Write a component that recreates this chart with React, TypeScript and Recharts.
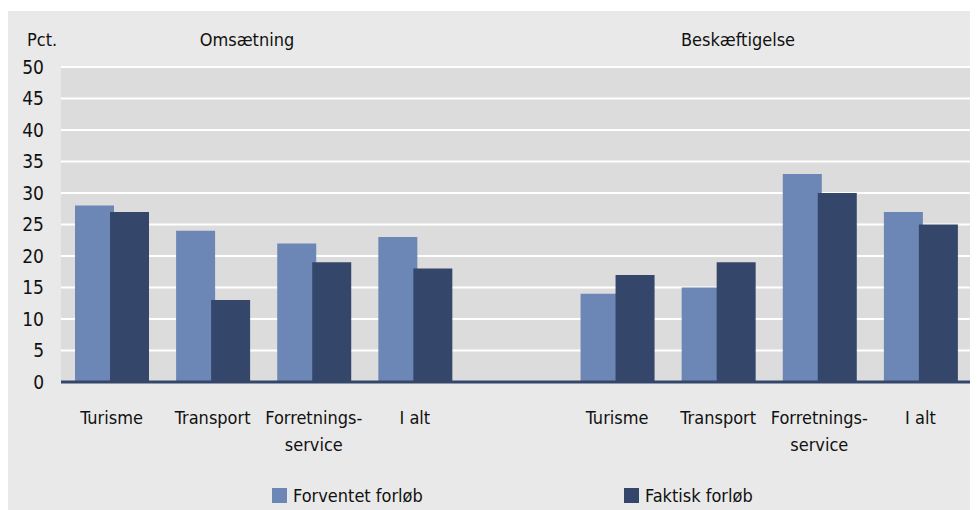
import { Bar, BarChart, CartesianGrid, XAxis, YAxis } from "recharts"

const categories = [
  "Turisme",
  "Transport",
  "Forretnings-\nservice",
  "I alt",
  "",
  "Turisme",
  "Transport",
  "Forretnings-\nservice",
  "I alt",
]
const forventet = [28, 24, 22, 23, null, 14, 15, 33, 27]
const faktisk = [27, 13, 19, 18, null, 17, 19, 30, 25]
const yTicks = [0, 5, 10, 15, 20, 25, 30, 35, 40, 45, 50]

const data = categories.map((name, i) => ({
  name,
  forventet: forventet[i],
  faktisk: faktisk[i],
}))

const FONT = '"DejaVu Sans Condensed", "Liberation Sans", sans-serif'
const LIGHT = "#6c87b5"
const DARK = "#34476b"

function CategoryTick(props: any) {
  const { x, y, payload } = props
  const lines = String(payload.value).split("\n")
  return (
    <text x={x} y={y} textAnchor="middle" fontFamily={FONT} fontSize={18} fill="#111">
      {lines.map((l, i) => (
        <tspan key={i} x={x} dy={i === 0 ? "0.71em" : 27}>
          {l}
        </tspan>
      ))}
    </text>
  )
}

export default function App() {
  return (
    <div
      style={{
        position: "relative",
        width: 970,
        height: 499,
        marginTop: 3,
        background: "#e9e9e9",
        fontFamily: FONT,
        color: "#111",
      }}
    >
      <div style={{ position: "absolute", left: 19, top: 20, fontSize: 18, lineHeight: "18px" }}>Pct.</div>
      <div style={{ position: "absolute", left: 139, width: 200, top: 20, fontSize: 18, lineHeight: "18px", textAlign: "center" }}>
        Omsætning
      </div>
      <div style={{ position: "absolute", left: 630, width: 200, top: 20, fontSize: 18, lineHeight: "18px", textAlign: "center" }}>
        Beskæftigelse
      </div>
      <BarChart
        width={970}
        height={499}
        data={data}
        margin={{ top: 56, right: 7, bottom: 38, left: 0 }}
        barGap={-4}
        barSize={39}
      >
        <CartesianGrid vertical={false} stroke="#ffffff" strokeWidth={2} fill="#dcdcdc" fillOpacity={1} />
        <XAxis
          dataKey="name"
          interval={0}
          tickLine={false}
          tickSize={0}
          tickMargin={29}
          height={90}
          axisLine={{ stroke: DARK, strokeWidth: 3 }}
          tick={<CategoryTick />}
        />
        <YAxis
          domain={[0, 50]}
          ticks={yTicks}
          width={53}
          axisLine={false}
          tickLine={false}
          tickSize={0}
          tickMargin={17}
          tick={{ fontFamily: FONT, fontSize: 19, fill: "#111" }}
        />
        <Bar dataKey="forventet" fill={LIGHT} isAnimationActive={false} />
        <Bar dataKey="faktisk" fill={DARK} isAnimationActive={false} />
      </BarChart>
      <div style={{ position: "absolute", left: 264, top: 477, width: 15, height: 15, background: LIGHT }} />
      <div style={{ position: "absolute", left: 285, top: 476, fontSize: 18, lineHeight: "18px" }}>Forventet forløb</div>
      <div style={{ position: "absolute", left: 616, top: 477, width: 15, height: 15, background: DARK }} />
      <div style={{ position: "absolute", left: 637, top: 476, fontSize: 18, lineHeight: "18px" }}>Faktisk forløb</div>
    </div>
  )
}
